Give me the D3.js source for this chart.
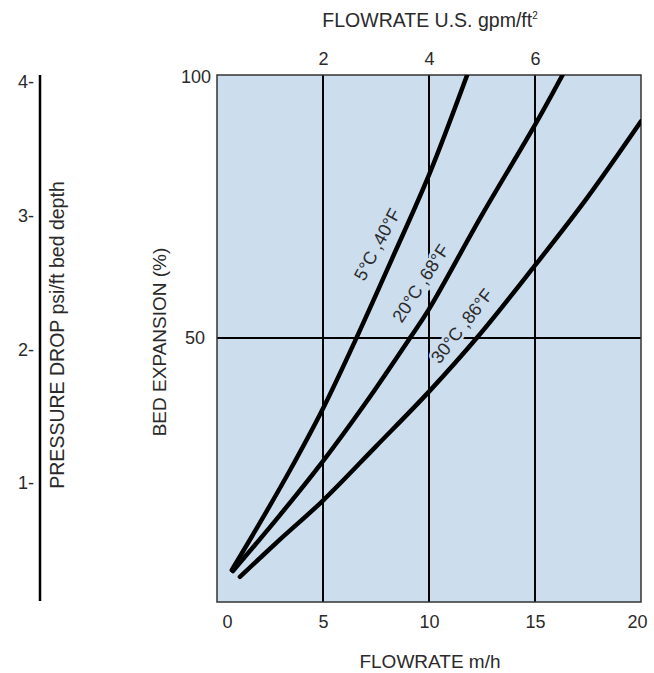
<!DOCTYPE html>
<html>
<head>
<meta charset="utf-8">
<script src="https://cdn.jsdelivr.net/npm/d3@7"></script>
<style>
  html, body { margin: 0; padding: 0; background: #ffffff; }
  svg { display: block; }
  text { font-family: "Liberation Sans", Arial, Helvetica, sans-serif; fill: #2a2a2a; }
</style>
</head>
<body>
<svg id="chart" width="654" height="673"></svg>
<script>
// Bed expansion (%) against flowrate (m/h) for three water temperatures
const flowTicks = [0, 5, 10, 15, 20];
const gpmTicks = [2, 4, 6];
const expansionTicks = [50, 100];
const pressureTicks = [1, 2, 3, 4];

const flow5C  = [0.7, 2.0, 3.45, 5.0, 6.6, 8.25, 10.0, 11.8];
const exp5C   = [5.9, 14.7, 24.9, 36.6, 50.2, 65.0, 81.0, 100];

const flow20C = [0.75, 2.9, 5.0, 7.0, 9.1, 10.0, 12.5, 15.0, 16.3];
const exp20C  = [5.7, 16.0, 26.6, 37.6, 50, 55.5, 73.4, 90.5, 100];

const flow30C = [1.08, 3.0, 5.0, 7.5, 10.0, 12.4, 15.0, 17.45, 20.0];
const exp30C  = [4.6, 11.8, 19.1, 29.4, 39.8, 50.7, 63.8, 76.6, 91.2];

const curveNames = ["5\u00B0C ,40\u00B0F", "20\u00B0C ,68\u00B0F", "30\u00B0C ,86\u00B0F"];
// where each curve name sits (flowrate, expansion) and its slant
const labelFlow = [7.55, 9.6, 11.55];
const labelExp  = [67.8, 60.4, 52.3];
const labelAngle = [-62, -57, -52];

const series = [
  { name: curveNames[0], pts: flow5C.map((f, i) => [f, exp5C[i]]) },
  { name: curveNames[1], pts: flow20C.map((f, i) => [f, exp20C[i]]) },
  { name: curveNames[2], pts: flow30C.map((f, i) => [f, exp30C[i]]) }
];

const svg = d3.select("#chart");
const L = 217, R = 641, T = 75, B = 601;
const bg = "#ccddee";

const x = d3.scaleLinear().domain([0, 20]).range([L, R]);
const gpm = d3.scaleLinear().domain([0, 8]).range([L, R]);
const y = d3.scaleLinear().domain([0, 100]).range([B, T]);
const pressure = d3.scaleLinear().domain([1, 4]).range([483, 82]);

// plot area
svg.append("rect")
  .attr("x", L).attr("y", T).attr("width", R - L).attr("height", B - T + 1)
  .attr("fill", bg);

// grid
const grid = svg.append("g").attr("stroke", "#000").attr("stroke-width", 2);
grid.selectAll("line.v").data(flowTicks.filter(d => d > 0 && d < 20)).join("line")
  .attr("class", "v")
  .attr("x1", d => x(d)).attr("x2", d => x(d))
  .attr("y1", T).attr("y2", B + 1);
grid.selectAll("line.h").data(expansionTicks.filter(d => d < 100)).join("line")
  .attr("class", "h")
  .attr("x1", L).attr("x2", R)
  .attr("y1", d => y(d)).attr("y2", d => y(d));

// frame
svg.append("rect")
  .attr("x", L).attr("y", T).attr("width", R - L).attr("height", B - T + 1)
  .attr("fill", "none").attr("stroke", "#333").attr("stroke-width", 1.5);

// curves
const clip = svg.append("defs").append("clipPath").attr("id", "plotClip");
clip.append("rect").attr("x", L).attr("y", T).attr("width", R - L).attr("height", B - T);

const line = d3.line()
  .x(d => x(d[0])).y(d => y(d[1]))
  .curve(d3.curveCatmullRom.alpha(0.5));

svg.append("g").attr("clip-path", "url(#plotClip)")
  .selectAll("path").data(series).join("path")
  .attr("d", d => line(d.pts))
  .attr("fill", "none")
  .attr("stroke", "#000")
  .attr("stroke-width", 4.5)
  .attr("stroke-linecap", "round")
  .attr("stroke-linejoin", "round");

// curve names, knocked out of the grid
svg.append("g").selectAll("text").data(series).join("text")
  .attr("transform", (d, i) => `translate(${x(labelFlow[i])},${y(labelExp[i])}) rotate(${labelAngle[i]})`)
  .attr("text-anchor", "middle")
  .attr("dy", "0.35em")
  .attr("font-size", 18)
  .attr("stroke", bg).attr("stroke-width", 5)
  .attr("paint-order", "stroke")
  .text(d => d.name);

// bottom axis
const xAxis = d3.axisBottom(x).tickValues(flowTicks).tickSize(0).tickPadding(14);
const gx = svg.append("g").attr("transform", `translate(0,${B})`).call(xAxis);
gx.select(".domain").remove();
gx.selectAll("text").attr("font-size", 18).attr("fill", "#2a2a2a")
  .attr("dx", d => d === 0 ? 10 : (d === 20 ? -4 : 0));

// top axis (U.S. units)
const gTop = svg.append("g").attr("transform", `translate(0,${T})`)
  .call(d3.axisTop(gpm).tickValues(gpmTicks).tickSize(0).tickPadding(10));
gTop.select(".domain").remove();
gTop.selectAll("text").attr("font-size", 18).attr("fill", "#2a2a2a");

// left axis (bed expansion)
const gy = svg.append("g").attr("transform", `translate(${L},0)`)
  .call(d3.axisLeft(y).tickValues(expansionTicks).tickSize(0).tickPadding(12));
gy.select(".domain").remove();
gy.selectAll("text").attr("font-size", 18).attr("fill", "#2a2a2a")
  .attr("dx", d => d === 100 ? 6 : 0)
  .attr("dy", d => d === 100 ? "0.4em" : "0.32em");

// pressure drop scale
const px = 40;
svg.append("line")
  .attr("x1", px).attr("x2", px).attr("y1", T).attr("y2", B)
  .attr("stroke", "#000").attr("stroke-width", 2.5);
svg.append("g").selectAll("text").data(pressureTicks).join("text")
  .attr("x", 34).attr("y", d => pressure(d))
  .attr("dy", "0.35em")
  .attr("text-anchor", "end")
  .attr("font-size", 18)
  .text(d => d + "-");

// axis titles
svg.append("text")
  .attr("x", 430).attr("y", 27)
  .attr("text-anchor", "middle").attr("font-size", 19.5)
  .text("FLOWRATE U.S. gpm/ft")
  .append("tspan").attr("font-size", 10).attr("dy", -8).text("2");

svg.append("text")
  .attr("x", 430).attr("y", 668)
  .attr("text-anchor", "middle").attr("font-size", 19)
  .text("FLOWRATE m/h");

svg.append("text")
  .attr("transform", "translate(166,342) rotate(-90)")
  .attr("text-anchor", "middle").attr("font-size", 19)
  .text("BED EXPANSION (%)");

svg.append("text")
  .attr("transform", "translate(64,335) rotate(-90)")
  .attr("text-anchor", "middle").attr("font-size", 19.5)
  .text("PRESSURE DROP psi/ft bed depth");
</script>
</body>
</html>
